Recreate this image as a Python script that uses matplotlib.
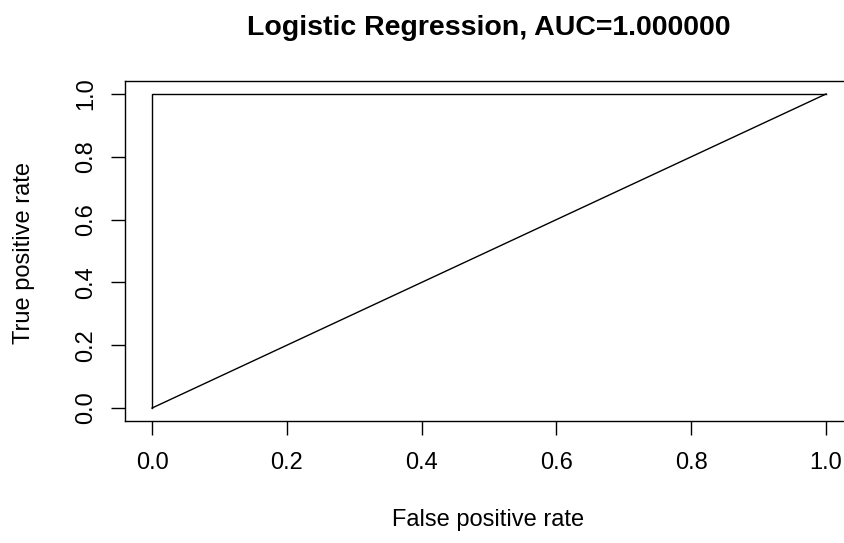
import numpy as np
import matplotlib.pyplot as plt

plt.rcParams['font.family'] = ['Liberation Sans', 'DejaVu Sans']

fpr = [0.0, 0.0, 1.0]
tpr = [0.0, 1.0, 1.0]
auc = 1.0
diag = [0.0, 1.0]
ticks = [0.0, 0.2, 0.4, 0.6, 0.8, 1.0]

fig = plt.figure(figsize=(8.45, 5.43), dpi=100)
# right side of the box falls outside the picture, as in the reference
ax = fig.add_axes([0.148, 0.2254, 0.8615, 0.6247])
ax.patch.set_visible(False)

ax.plot(fpr, tpr, color='black', lw=1.0)
ax.plot(diag, diag, color='black', lw=1.0)

ax.set_xlim(-0.04, 1.04)
ax.set_ylim(-0.04, 1.04)
ax.set_xticks(ticks)
ax.set_yticks(ticks)
ax.set_xticklabels(['%.1f' % t for t in ticks], fontsize=17)
ax.set_yticklabels(['%.1f' % t for t in ticks], fontsize=17, rotation=90, va='center')
ax.tick_params(direction='out', length=10, width=1)
ax.tick_params(axis='x', pad=12.5)
ax.tick_params(axis='y', pad=10)

for s in ax.spines.values():
    s.set_linewidth(1.0)
ax.spines['right'].set_color('none')
ax.spines['right'].set_visible(False)

ax.set_xlabel('False positive rate', fontsize=17)
ax.xaxis.set_label_coords(0.578, 0.0635, transform=fig.transFigure)
ax.set_ylabel('True positive rate', fontsize=17)
ax.yaxis.set_label_coords(0.042, 0.534, transform=fig.transFigure)
ax.set_title('Logistic Regression, AUC=%f' % auc, fontsize=20.5, fontweight='bold', y=1.138, pad=0)

plt.savefig('out.png', dpi=100)
